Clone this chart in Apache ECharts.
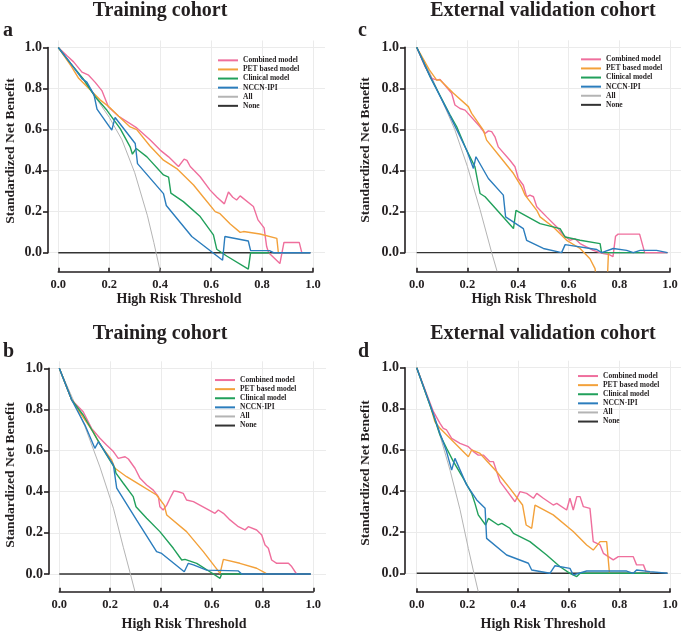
<!DOCTYPE html>
<html>
<head>
<meta charset="utf-8">
<script src="https://cdn.jsdelivr.net/npm/echarts@6/dist/echarts.min.js"></script>
<style>
  html, body { margin: 0; padding: 0; background: #fff; }
  #chart { width: 685px; height: 632px; }
</style>
</head>
<body>
<div id="chart"></div>
<script>
// 图例名称与刻度
const modelNames = ['Combined model', 'PET based model', 'Clinical model', 'NCCN-IPI', 'All', 'None'];
const tickValues = [0, 0.2, 0.4, 0.6, 0.8, 1.0];

// a: Training cohort
const aCombined = [[0,1],[0.034,0.96],[0.06,0.93],[0.093,0.88],[0.119,0.865],[0.145,0.83],[0.171,0.79],[0.184,0.75],[0.197,0.71],[0.237,0.665],[0.308,0.608],[0.36,0.55],[0.4,0.5],[0.433,0.467],[0.472,0.42],[0.494,0.456],[0.505,0.45],[0.518,0.42],[0.557,0.37],[0.596,0.305],[0.623,0.27],[0.652,0.238],[0.668,0.296],[0.685,0.27],[0.7,0.257],[0.714,0.277],[0.766,0.225],[0.784,0.16],[0.808,0.121],[0.818,0.03],[0.826,0.0],[0.87,-0.053],[0.886,0.05],[0.946,0.05],[0.956,0.0]];
const aPET = [[0,1],[0.05,0.91],[0.08,0.85],[0.12,0.8],[0.164,0.745],[0.2,0.71],[0.237,0.665],[0.282,0.613],[0.308,0.6],[0.36,0.52],[0.413,0.451],[0.465,0.41],[0.531,0.33],[0.57,0.27],[0.616,0.2],[0.635,0.19],[0.675,0.14],[0.714,0.099],[0.727,0.103],[0.792,0.091],[0.858,0.07],[0.864,0.0]];
const aClinical = [[0,1],[0.05,0.92],[0.099,0.845],[0.145,0.76],[0.191,0.694],[0.243,0.605],[0.282,0.516],[0.291,0.48],[0.306,0.508],[0.348,0.467],[0.413,0.379],[0.433,0.368],[0.442,0.29],[0.491,0.249],[0.557,0.176],[0.609,0.087],[0.622,0.017],[0.661,-0.016],[0.746,-0.08],[0.755,0.0],[0.83,0.0]];
const aNCCN = [[0,1],[0.05,0.92],[0.093,0.848],[0.112,0.831],[0.14,0.77],[0.152,0.70],[0.21,0.597],[0.223,0.659],[0.302,0.532],[0.311,0.434],[0.413,0.288],[0.424,0.23],[0.524,0.079],[0.645,-0.037],[0.654,0.079],[0.746,0.057],[0.755,0.01],[0.829,0.01],[0.845,0.0],[0.99,0.0]];
const aAll = [[0,1],[0.05,0.92],[0.1,0.84],[0.15,0.75],[0.2,0.66],[0.25,0.55],[0.3,0.39],[0.35,0.18],[0.375,0.05],[0.4,-0.09]];
const aNone = [[0,0],[0.99,0]];

// b: Training cohort
const bCombined = [[0,1],[0.049,0.846],[0.055,0.838],[0.094,0.789],[0.127,0.708],[0.16,0.66],[0.186,0.627],[0.213,0.595],[0.232,0.562],[0.259,0.57],[0.272,0.559],[0.298,0.514],[0.318,0.465],[0.344,0.433],[0.37,0.408],[0.39,0.376],[0.396,0.327],[0.409,0.311],[0.423,0.335],[0.436,0.368],[0.451,0.404],[0.469,0.4],[0.488,0.392],[0.501,0.36],[0.528,0.352],[0.613,0.295],[0.626,0.311],[0.646,0.295],[0.672,0.263],[0.705,0.23],[0.731,0.214],[0.744,0.23],[0.777,0.214],[0.797,0.19],[0.81,0.141],[0.823,0.125],[0.836,0.068],[0.856,0.052],[0.902,0.052],[0.915,0.036],[0.934,0.0]];
const bPET = [[0,1],[0.049,0.846],[0.088,0.773],[0.134,0.69],[0.16,0.63],[0.206,0.554],[0.219,0.514],[0.265,0.473],[0.318,0.433],[0.383,0.384],[0.413,0.335],[0.423,0.287],[0.501,0.206],[0.567,0.109],[0.633,0.003],[0.646,0.071],[0.711,0.052],[0.777,0.028],[0.814,0.003]];
const bClinical = [[0,1],[0.049,0.846],[0.094,0.773],[0.147,0.66],[0.186,0.579],[0.219,0.514],[0.223,0.49],[0.252,0.441],[0.291,0.376],[0.302,0.327],[0.344,0.271],[0.396,0.206],[0.449,0.125],[0.482,0.068],[0.495,0.071],[0.541,0.052],[0.593,0.011],[0.633,-0.021],[0.639,0.0],[0.72,0.0]];
const bNCCN = [[0,1],[0.049,0.846],[0.101,0.724],[0.14,0.611],[0.154,0.643],[0.213,0.53],[0.226,0.417],[0.304,0.263],[0.383,0.109],[0.403,0.1],[0.492,0.011],[0.508,0.052],[0.528,0.044],[0.58,0.019],[0.705,0.015],[0.718,0.0],[0.99,0.0]];
const bAll = [[0,1],[0.05,0.86],[0.1,0.72],[0.16,0.52],[0.213,0.32],[0.252,0.13],[0.28,0.0],[0.298,-0.086]];
const bNone = [[0,0],[0.99,0]];

// c: External validation cohort
const cCombined = [[0,1],[0.033,0.906],[0.059,0.849],[0.079,0.841],[0.092,0.844],[0.138,0.776],[0.151,0.719],[0.171,0.702],[0.191,0.694],[0.25,0.613],[0.27,0.58],[0.283,0.593],[0.296,0.589],[0.309,0.564],[0.322,0.515],[0.368,0.45],[0.388,0.418],[0.401,0.361],[0.421,0.328],[0.434,0.272],[0.447,0.28],[0.461,0.272],[0.474,0.223],[0.513,0.174],[0.553,0.125],[0.579,0.085],[0.605,0.06],[0.625,0.068],[0.645,0.044],[0.697,0.011],[0.737,-0.005],[0.76,-0.01],[0.775,-0.02],[0.785,0.08],[0.795,0.09],[0.88,0.09],[0.9,0.0],[0.99,0.0]];
const cPET = [[0,1],[0.05,0.89],[0.079,0.84],[0.092,0.841],[0.145,0.776],[0.204,0.711],[0.217,0.678],[0.263,0.597],[0.276,0.548],[0.329,0.467],[0.382,0.385],[0.414,0.32],[0.428,0.28],[0.474,0.206],[0.487,0.174],[0.539,0.125],[0.592,0.06],[0.645,0.02],[0.684,-0.03],[0.704,-0.078],[0.712,-0.15],[0.752,-0.15],[0.757,0.0]];
const cClinical = [[0,1],[0.053,0.857],[0.132,0.67],[0.158,0.613],[0.197,0.499],[0.23,0.418],[0.25,0.288],[0.27,0.272],[0.382,0.117],[0.392,0.206],[0.487,0.141],[0.566,0.117],[0.586,0.076],[0.645,0.06],[0.724,0.044],[0.73,0.0],[0.9,0.0]];
const cNCCN = [[0,1],[0.053,0.857],[0.132,0.665],[0.197,0.5],[0.224,0.41],[0.234,0.467],[0.283,0.361],[0.342,0.28],[0.351,0.174],[0.421,0.117],[0.434,0.06],[0.5,0.02],[0.572,0.0],[0.586,0.039],[0.711,0.015],[0.73,0.0],[0.776,0.02],[0.829,0.011],[0.855,0.0],[0.882,0.011],[0.947,0.011],[0.99,0.0]];
const cAll = [[0,1],[0.05,0.88],[0.09,0.77],[0.15,0.6],[0.2,0.42],[0.25,0.21],[0.296,0.0],[0.318,-0.094]];
const cNone = [[0,0],[0.99,0]];

// d: External validation cohort
const dCombined = [[0,1],[0.053,0.827],[0.066,0.786],[0.092,0.729],[0.105,0.705],[0.118,0.697],[0.138,0.656],[0.171,0.632],[0.204,0.616],[0.224,0.592],[0.243,0.575],[0.263,0.575],[0.289,0.543],[0.303,0.543],[0.329,0.446],[0.349,0.413],[0.388,0.348],[0.408,0.397],[0.414,0.405],[0.434,0.389],[0.461,0.365],[0.474,0.389],[0.5,0.365],[0.539,0.332],[0.553,0.34],[0.592,0.308],[0.605,0.365],[0.618,0.308],[0.632,0.373],[0.645,0.373],[0.658,0.324],[0.684,0.316],[0.697,0.154],[0.724,0.138],[0.737,0.097],[0.776,0.065],[0.796,0.081],[0.855,0.081],[0.868,0.041],[0.895,0.041],[0.908,0.0],[0.92,0.0]];
const dPET = [[0,1],[0.053,0.818],[0.06,0.82],[0.072,0.737],[0.092,0.705],[0.145,0.64],[0.204,0.567],[0.217,0.6],[0.25,0.583],[0.316,0.494],[0.368,0.413],[0.418,0.332],[0.432,0.235],[0.454,0.219],[0.467,0.332],[0.539,0.284],[0.618,0.203],[0.671,0.138],[0.697,0.113],[0.724,0.154],[0.75,0.154],[0.761,0.0]];
const dClinical = [[0,1],[0.066,0.77],[0.092,0.673],[0.118,0.608],[0.145,0.543],[0.184,0.462],[0.217,0.389],[0.23,0.34],[0.243,0.284],[0.272,0.235],[0.283,0.267],[0.322,0.235],[0.336,0.243],[0.368,0.219],[0.382,0.194],[0.447,0.154],[0.513,0.089],[0.566,0.032],[0.605,0.0],[0.632,-0.016],[0.645,0.0],[0.92,0.0]];
const dNCCN = [[0,1],[0.066,0.775],[0.092,0.68],[0.118,0.592],[0.138,0.502],[0.151,0.559],[0.197,0.43],[0.237,0.357],[0.27,0.316],[0.276,0.17],[0.355,0.089],[0.441,0.049],[0.454,0.016],[0.526,0.0],[0.546,0.037],[0.605,0.024],[0.618,-0.008],[0.671,0.011],[0.829,0.011],[0.855,0.0],[0.868,0.016],[0.921,0.008],[0.928,0.0],[0.99,0.0]];
const dAll = [[0,1],[0.05,0.83],[0.092,0.67],[0.132,0.5],[0.171,0.31],[0.204,0.12],[0.226,0.0],[0.243,-0.089]];
const dNone = [[0,0],[0.99,0]];

const COLORS = ['#EF6F9D', '#F3A13A', '#21A05B', '#2B7DBD', '#B4B4B4', '#333333'];
const FONT = "'Liberation Serif', 'Times New Roman', serif";
const INK = '#231F20';

// 每个面板的像素布局: yLine=y轴线, x0/x1=阈值0/1, y1/y0=净获益1/0, xLine=x轴线
const panels = [
  { letter: 'a', title: 'Training cohort', curves: [aCombined, aPET, aClinical, aNCCN, aAll, aNone],
    yLine: 48, x0: 58.3, x1: 313, y1: 47.5, y0: 252.7, xLine: 271.8, right: 325,
    titleX: 160, titleY: 11, letterX: 3, letterY: 31, xtX: 179, xtY: 299, ytX: 11, ytY: 151, legL: 218, legT: 55.8 },
  { letter: 'c', title: 'External validation cohort', curves: [cCombined, cPET, cClinical, cNCCN, cAll, cNone],
    yLine: 405, x0: 416.7, x1: 670, y1: 47.3, y0: 252.6, xLine: 271.8, right: 681,
    titleX: 543, titleY: 11, letterX: 358, letterY: 31, xtX: 534, xtY: 299, ytX: 366, ytY: 150, legL: 581, legT: 54.8 },
  { letter: 'b', title: 'Training cohort', curves: [bCombined, bPET, bClinical, bNCCN, bAll, bNone],
    yLine: 49, x0: 59.3, x1: 313.3, y1: 368.3, y0: 574, xLine: 591.8, right: 326,
    titleX: 160, titleY: 334, letterX: 3, letterY: 352, xtX: 184, xtY: 624, ytX: 11, ytY: 475, legL: 215, legT: 375.5 },
  { letter: 'd', title: 'External validation cohort', curves: [dCombined, dPET, dClinical, dNCCN, dAll, dNone],
    yLine: 405, x0: 416.7, x1: 670, y1: 367.7, y0: 573.3, xLine: 592.2, right: 681,
    titleX: 543, titleY: 334, letterX: 358, letterY: 352, xtX: 543, xtY: 624, ytX: 366, ytY: 473, legL: 578, legT: 371.5 }
];

const grid = [], xAxis = [], yAxis = [], series = [], legend = [], graphic = [];

panels.forEach((p, i) => {
  const w = p.x1 - p.x0, h = p.y0 - p.y1;
  const top = p.y1 - 7, bottom = p.xLine - 1;
  // 数据区 (网格线 + 曲线)
  grid.push({ left: p.yLine, top: top, width: p.right - p.yLine, height: bottom - top });
  // 坐标轴区 (只画 0~1 的轴线)
  grid.push({ left: p.x0, top: p.y1, width: w, height: h });

  const dataGi = 2 * i, axisGi = 2 * i + 1;
  const split = { show: true, lineStyle: { color: '#EBEBEB', width: 1 } };
  xAxis.push({
    type: 'value', gridIndex: dataGi,
    min: -(p.x0 - p.yLine) / w, max: 1 + (p.right - p.x1) / w,
    axisLine: { show: false }, axisLabel: { show: false },
    axisTick: { show: false, customValues: tickValues }, splitLine: split
  });
  yAxis.push({
    type: 'value', gridIndex: dataGi,
    min: -(bottom - p.y0) / h, max: 1 + 7 / h,
    axisLine: { show: false }, axisLabel: { show: false },
    axisTick: { show: false, customValues: tickValues }, splitLine: split
  });
  const lab = size => ({ color: INK, fontFamily: FONT, fontWeight: 'bold', fontSize: size, margin: 6,
    formatter: v => v.toFixed(1) });
  const line = { show: true, onZero: false, lineStyle: { color: INK, width: 1.6 } };
  xAxis.push({
    type: 'value', gridIndex: axisGi, min: 0, max: 1, interval: 0.2, position: 'bottom',
    offset: p.xLine - p.y0, axisLine: line,
    axisTick: { show: true, inside: true, length: 4, lineStyle: { color: INK, width: 1.6 } },
    axisLabel: lab(12.5), splitLine: { show: false }
  });
  yAxis.push({
    type: 'value', gridIndex: axisGi, min: 0, max: 1, interval: 0.2, position: 'left',
    offset: p.x0 - p.yLine, axisLine: line,
    axisTick: { show: true, length: 5, lineStyle: { color: INK, width: 1.6 } },
    axisLabel: lab(14), splitLine: { show: false }
  });

  // 先画 None / All, 模型曲线在上
  [5, 4, 0, 1, 2, 3].forEach(k => {
    series.push({
      name: modelNames[k], type: 'line', xAxisIndex: dataGi, yAxisIndex: dataGi,
      data: p.curves[k], symbol: 'none', clip: true, silent: true,
      lineStyle: { color: COLORS[k], width: k === 4 ? 1 : 1.4 },
      itemStyle: { color: COLORS[k] }
    });
  });

  legend.push({
    data: modelNames, orient: 'vertical', left: p.legL, top: p.legT,
    icon: 'rect', itemWidth: 20, itemHeight: 2, itemGap: 0, padding: 0, selectedMode: false,
    textStyle: { color: INK, fontFamily: FONT, fontWeight: 'bold', fontSize: 7.5, lineHeight: 9.1, padding: 0 }
  });

  const txt = (x, y, text, size, align, rot) => ({
    type: 'text', x: x, y: y, rotation: rot || 0, silent: true,
    style: { text: text, fill: INK, font: 'bold ' + size + 'px ' + FONT, align: align, verticalAlign: 'middle' }
  });
  graphic.push(txt(p.titleX, p.titleY, p.title, 20, 'center'));
  graphic.push(txt(p.letterX, p.letterY, p.letter, 20, 'left'));
  graphic.push(txt(p.xtX, p.xtY, 'High Risk Threshold', 14, 'center'));
  graphic.push(txt(p.ytX, p.ytY, 'Standardized Net Benefit', 13.5, 'center', Math.PI / 2));
});

const chart = echarts.init(document.getElementById('chart'), null, { width: 685, height: 632 });
chart.setOption({
  animation: false,
  backgroundColor: '#fff',
  grid, xAxis, yAxis, series, legend, graphic
});
</script>
</body>
</html>
